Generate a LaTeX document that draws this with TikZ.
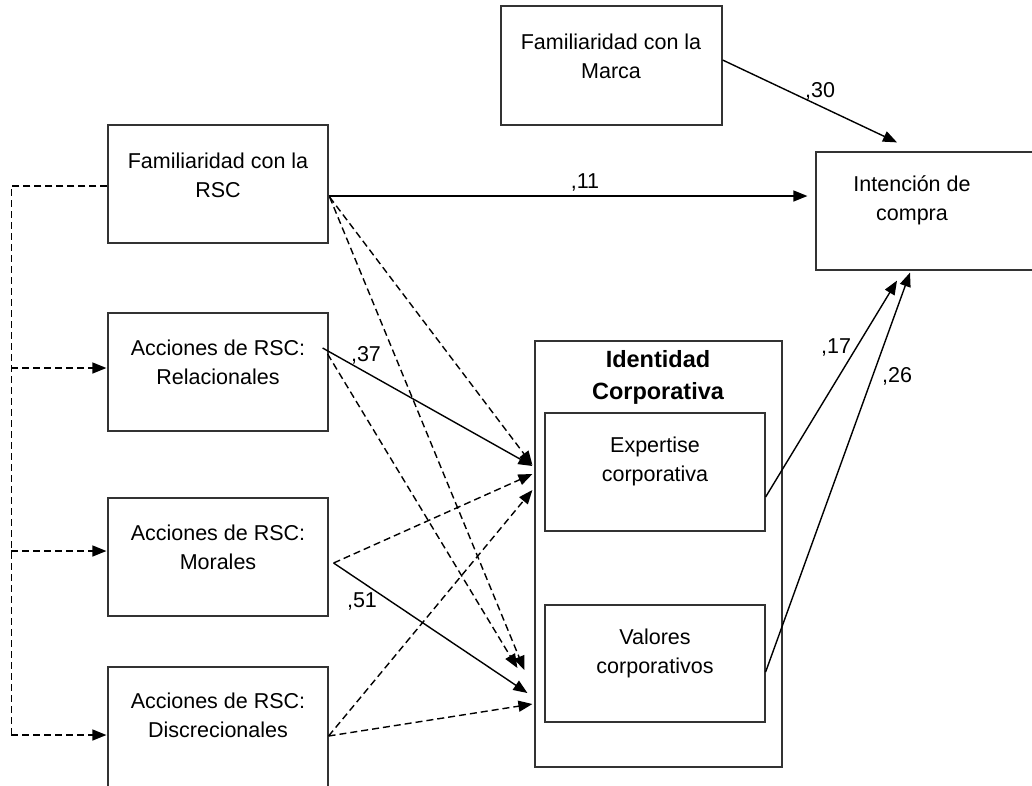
\documentclass[tikz,border=0pt]{standalone}
\usepackage{fontspec}
\setmainfont{Liberation Sans}
\usetikzlibrary{arrows.meta,calc}
\begin{document}
\begin{tikzpicture}[x=1pt,y=-1pt,
  box/.style={draw=black!80,line width=1.2pt,inner sep=0pt,minimum width=220pt,minimum height=118pt},
  txt/.style={align=center,inner sep=0pt,font=\fontsize{21.5}{29}\selectfont},
  coef/.style={inner sep=0pt,font=\fontsize{21.5}{26}\selectfont},
  tip/.style={-{Triangle[length=14pt,width=11pt]}},
  path/.style={tip,line width=1.4pt},
  dpath/.style={tip,line width=1.4pt,dash pattern=on 7pt off 4pt}]
\useasboundingbox (0,0) rectangle (1032,785);
\clip (0,0) rectangle (1032,785);
\fill[white] (0,0) rectangle (1032,785);

% variable boxes
\node[box,minimum width=221pt,minimum height=119pt] (marca) at (611.5,65.5) {};
\node[box] (rsc) at (218,184) {};
\node[box] (rel) at (218,372) {};
\node[box] (mor) at (218,557) {};
\node[box,minimum height=122pt] (dis) at (218,728) {};
\node[box] (int) at (926,211) {};
\node[box,minimum width=247pt,minimum height=426pt] (ic) at (658.5,554) {};
\node[box] (exp) at (655,472) {};
\node[box,minimum height=117pt] (val) at (655,663.5) {};

% box texts
\node[txt] (marcat) at (611,56) {Familiaridad con la\\Marca};
\node[txt] (rsct) at (218,175) {Familiaridad con la\\RSC};
\node[txt] (relt) at (218,362) {Acciones de RSC:\\Relacionales};
\node[txt] (mort) at (218,547) {Acciones de RSC:\\Morales};
\node[txt] (dist) at (218,715) {Acciones de RSC:\\Discrecionales};
\node[txt] (intt) at (912,200) {Intención de\\compra};
\node[txt,font=\fontsize{23.5}{32}\selectfont\bfseries] (ict) at (658,377) {Identidad\\Corporativa};
\node[txt] (expt) at (655,461) {Expertise\\corporativa};
\node[txt] (valt) at (655,653) {Valores\\corporativos};

% correlations among the CSR variables
\draw[dpath,-] ($(rsc.west)+(0,2)$) -- ++(-96,0) coordinate (spine) -- ($(dis.west)+(-96,7)$);
\draw[dpath] ($(dis.west)+(-96,7)$) -- ($(dis.west)+(-1,7)$);
\draw[dpath] ($(rel.west)+(-96,-4)$) -- ($(rel.west)+(-1,-4)$);
\draw[dpath] ($(mor.west)+(-96,-6)$) -- ($(mor.west)+(-1,-6)$);

% direct effects on purchase intention
\draw[path] ($(rsc.east)+(0,12)$) -- ($(int.west)+(-8,-15)$);
\draw[path] ($(marca.east)+(0,-5.5)$) -- ($(int.north)+(-29,-9)$);
\draw[path] ($(exp.east)+(0,25)$) -- ($(int.south)+(-29,10)$);
\draw[path] ($(val.east)+(0,8.5)$) -- ($(int.south)+(-16,2)$);

% effects on corporate identity
\draw[dpath] ($(rsc.east)+(1,13)$) -- ($(ic.west)+(-2,-89)$);
\draw[dpath] ($(rsc.east)+(1,13)$) -- ($(ic.west)+(-10,116)$);
\draw[path] ($(rel.east)+(-6,-24)$) -- ($(ic.west)+(-2,-88)$);
\draw[dpath] ($(rel.east)+(-1,-18)$) -- ($(ic.west)+(-17,114)$);
\draw[dpath] ($(mor.east)+(5,6)$) -- ($(ic.west)+(-2,-80)$);
\draw[path] ($(mor.east)+(5,6)$) -- ($(ic.west)+(-7,139)$);
\draw[dpath] ($(dis.east)+(0,8)$) -- ($(ic.west)+(-2,-64)$);
\draw[dpath] ($(dis.east)+(0,8)$) -- ($(ic.west)+(-2,150)$);

% path coefficients
\node[coef] (c11) at (585,182) {,11};
\node[coef] (c30) at (820,91) {,30};
\node[coef] (c37) at (366,355) {,37};
\node[coef] (c51) at (362,601) {,51};
\node[coef] (c17) at (836,347) {,17};
\node[coef] (c26) at (897,376) {,26};
\end{tikzpicture}
\end{document}
